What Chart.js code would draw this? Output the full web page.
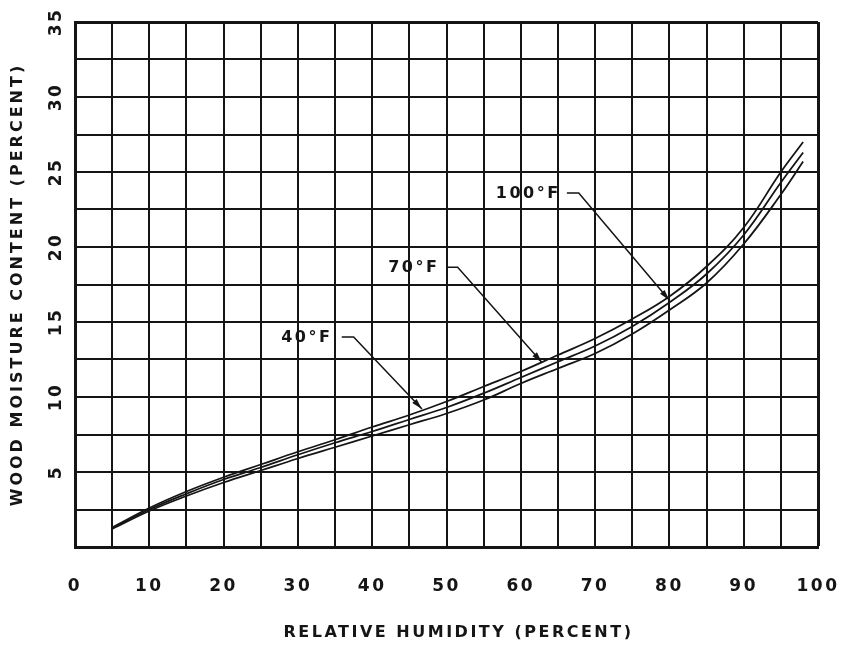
<!DOCTYPE html>
<html>
<head>
<meta charset="utf-8">
<script src="https://cdn.jsdelivr.net/npm/chart.js@4.4.0/dist/chart.umd.min.js"></script>
<style>
    html, body { margin: 0; padding: 0; background: #ffffff; }
    canvas { display: block; }
</style>
</head>
<body>
<canvas id="emc-chart" width="843" height="645"></canvas>
<script>
// Humedad relativa (%) donde se leyeron las curvas
const humedad = [5, 10, 15, 20, 25, 30, 35, 40, 45, 50, 55, 60, 65, 70, 75, 80, 85, 90, 95, 98];

// Contenido de humedad de la madera (%) para cada temperatura
const emc40 = [1.3, 2.6, 3.7, 4.65, 5.5, 6.35, 7.15, 8.0, 8.8, 9.7, 10.7, 11.7, 12.8, 13.9, 15.2, 16.7, 18.7, 21.3, 25.0, 27.0];
const emc70 = [1.25, 2.5, 3.55, 4.5, 5.3, 6.15, 6.95, 7.7, 8.5, 9.3, 10.25, 11.3, 12.35, 13.4, 14.7, 16.3, 18.2, 20.8, 24.3, 26.3];
const emc100 = [1.2, 2.4, 3.4, 4.3, 5.1, 5.9, 6.65, 7.4, 8.15, 8.9, 9.8, 10.9, 11.9, 12.9, 14.2, 15.8, 17.6, 20.2, 23.5, 25.7];

// Etiquetas de los ejes
const xTickLabels = [0, 10, 20, 30, 40, 50, 60, 70, 80, 90, 100];
const yTickLabels = [5, 10, 15, 20, 25, 30, 35];
const xTitulo = 'RELATIVE HUMIDITY (PERCENT)';
const yTitulo = 'WOOD MOISTURE CONTENT (PERCENT)';

// Rótulos de cada curva con su flecha (en unidades de los ejes)
const curvaLabels = ['40°F', '70°F', '100°F'];
const labelPos = [[31.2, 13.95], [45.6, 18.6], [61.0, 23.55]];
const leaderPts = [
    [[35.9, 14.0], [37.5, 14.0], [46.7, 9.2]],
    [[50.0, 18.65], [51.5, 18.65], [62.85, 12.3]],
    [[66.2, 23.6], [67.8, 23.6], [80.0, 16.45]]
];

const tinta = '#151515';
const familia = '"DejaVu Sans", sans-serif';
const fuenteTicks = { family: familia, size: 17, weight: 'bold' };

function toPoints(valores) {
    return humedad.map((h, i) => ({ x: h, y: valores[i] }));
}

function curva(valores) {
    return {
        data: toPoints(valores),
        borderColor: tinta,
        borderWidth: 1.8,
        pointRadius: 0,
        fill: false,
        tension: 0.4
    };
}

// Espaciado entre letras de los números de los ejes
const espaciado = {
    id: 'espaciado',
    beforeUpdate(chart) { chart.ctx.letterSpacing = '2.5px'; },
    beforeDraw(chart) { chart.ctx.letterSpacing = '2.5px'; }
};

// Títulos de los ejes
const titulos = {
    id: 'titulos',
    afterDraw(chart) {
        const { ctx, chartArea } = chart;
        ctx.save();
        ctx.fillStyle = tinta;
        ctx.textAlign = 'center';
        ctx.textBaseline = 'middle';
        ctx.font = 'bold 16px ' + familia;

        ctx.letterSpacing = '2.5px';
        ctx.fillText(xTitulo, (chartArea.left + chartArea.right) / 2 + 12, chart.height - 12);

        ctx.letterSpacing = '3px';
        ctx.translate(18, (chartArea.top + chartArea.bottom) / 2);
        ctx.rotate(-Math.PI / 2);
        ctx.fillText(yTitulo, 0, 0);
        ctx.restore();
    }
};

// Rótulos de temperatura con sus líneas guía y puntas de flecha
const anotaciones = {
    id: 'anotaciones',
    afterDatasetsDraw(chart) {
        const { ctx, scales: { x, y } } = chart;
        ctx.save();
        ctx.letterSpacing = '2.5px';
        ctx.font = 'bold 16px ' + familia;
        ctx.fillStyle = tinta;
        ctx.strokeStyle = tinta;
        ctx.lineWidth = 1.5;
        ctx.textAlign = 'center';
        ctx.textBaseline = 'middle';

        curvaLabels.forEach((texto, i) => {
            ctx.fillText(texto, x.getPixelForValue(labelPos[i][0]), y.getPixelForValue(labelPos[i][1]));

            const pts = leaderPts[i].map(p => [x.getPixelForValue(p[0]), y.getPixelForValue(p[1])]);
            ctx.beginPath();
            ctx.moveTo(pts[0][0], pts[0][1]);
            pts.slice(1).forEach(p => ctx.lineTo(p[0], p[1]));
            ctx.stroke();

            // punta de flecha
            const [x1, y1] = pts[pts.length - 2];
            const [x2, y2] = pts[pts.length - 1];
            const ang = Math.atan2(y2 - y1, x2 - x1);
            const largo = 11, ancho = 3;
            ctx.beginPath();
            ctx.moveTo(x2, y2);
            ctx.lineTo(x2 - largo * Math.cos(ang) + ancho * Math.sin(ang), y2 - largo * Math.sin(ang) - ancho * Math.cos(ang));
            ctx.lineTo(x2 - largo * Math.cos(ang) - ancho * Math.sin(ang), y2 - largo * Math.sin(ang) + ancho * Math.cos(ang));
            ctx.closePath();
            ctx.fill();
        });
        ctx.restore();
    }
};

const ctx = document.getElementById('emc-chart').getContext('2d');
window.emcChart = new Chart(ctx, {
    type: 'line',
    data: {
        datasets: [curva(emc40), curva(emc70), curva(emc100)]
    },
    plugins: [espaciado, anotaciones, titulos],
    options: {
        responsive: false,
        animation: false,
        layout: { padding: { top: 22, right: 25, left: 0, bottom: 0 } },
        plugins: {
            legend: { display: false },
            tooltip: { enabled: false }
        },
        scales: {
            x: {
                type: 'linear',
                min: 0,
                max: 100,
                ticks: {
                    stepSize: 5,
                    autoSkip: false,
                    maxRotation: 0,
                    padding: 29,
                    color: tinta,
                    font: fuenteTicks,
                    callback: v => xTickLabels.includes(v) ? String(v) : ''
                },
                grid: {
                    color: tinta,
                    lineWidth: c => (c.tick && c.tick.value === 100) ? 3 : 2,
                    drawTicks: false
                },
                border: { color: tinta, width: 3 },
                afterFit: scale => {
                    scale.height = 98;
                    scale.paddingLeft = 0;
                    scale.paddingRight = 0;
                }
            },
            y: {
                type: 'linear',
                min: 0,
                max: 35,
                ticks: {
                    stepSize: 2.5,
                    autoSkip: false,
                    minRotation: 90,
                    maxRotation: 90,
                    crossAlign: 'center',
                    padding: 4,
                    color: tinta,
                    font: fuenteTicks,
                    callback: v => yTickLabels.includes(v) ? String(v) : ''
                },
                grid: {
                    color: tinta,
                    lineWidth: c => (c.tick && c.tick.value === 35) ? 3 : 2,
                    drawTicks: false
                },
                border: { color: tinta, width: 3 },
                afterFit: scale => {
                    scale.width = 75;
                    scale.paddingTop = 0;
                    scale.paddingBottom = 0;
                }
            }
        }
    }
});
</script>
</body>
</html>
